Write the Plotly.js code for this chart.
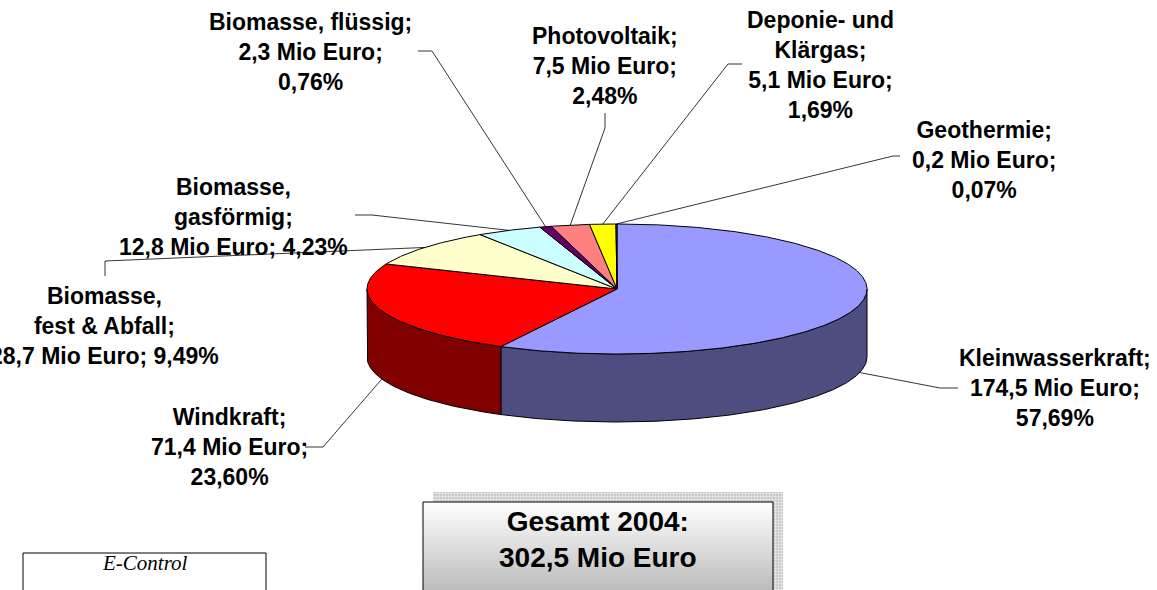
<!DOCTYPE html>
<html>
<head>
<meta charset="utf-8">
<script src="https://cdn.plot.ly/plotly-3.0.1.min.js"></script>
<style>html,body{margin:0;padding:0;background:#fff;}#chart{width:1157px;height:590px;}</style>
</head>
<body>
<div id="chart"></div>
<script>
// ---- data ----
const categories = ['Kleinwasserkraft', 'Windkraft', 'Biomasse, fest & Abfall', 'Biomasse, gasförmig',
                    'Biomasse, flüssig', 'Photovoltaik', 'Deponie- und Klärgas', 'Geothermie'];
const values = [174.5, 71.4, 28.7, 12.8, 2.3, 7.5, 5.1, 0.2];   // Mio Euro
const year = '2004';
const unit = 'Mio Euro';
// label wording (line breaks) per category
const labelNames = ['Kleinwasserkraft', 'Windkraft', 'Biomasse,<br>fest & Abfall', 'Biomasse,<br>gasförmig',
                    'Biomasse, flüssig', 'Photovoltaik', 'Deponie- und<br>Klärgas', 'Geothermie'];
const pctOnSameLine = [false, false, true, true, false, false, false, false];

// ---- styles / layout geometry ----
const sliceColors = ['#9999FF', '#FF0000', '#FFFFCC', '#CCFFFF', '#660066', '#FF8080', '#FFFF00', '#3366FF'];
const pie = {cx: 617, cy: 289, rx: 250, ry: 65, depth: 68};
const labelPos = [
  {x: 1055, y: 388, leader: [[958, 388], [940, 388]], edge: 'bottom'},
  {x: 229.5, y: 446.5, leader: [[305, 447], [323, 447]], edge: 'bottom'},
  {x: 104.5, y: 325.5, leader: [[105, 276], [105, 261]], edge: 'top'},
  {x: 233, y: 216.5, leader: [[355, 215], [372, 215]], edge: 'top'},
  {x: 310, y: 51.5, leader: [[418, 51], [432, 51]], edge: 'top'},
  {x: 604.5, y: 66, leader: [[605, 113], [605, 128]], edge: 'top'},
  {x: 820, y: 65, leader: [[742, 64], [728, 64]], edge: 'top'},
  {x: 983.5, y: 159.5, leader: [[900, 156], [893, 156]], edge: 'top'}
];

function fmt(v, d) { return v.toFixed(d).replace('.', ','); }
function darken(hex, f) {
  const n = parseInt(hex.slice(1), 16);
  const r = Math.round(((n >> 16) & 255) * f), g = Math.round(((n >> 8) & 255) * f), b = Math.round((n & 255) * f);
  return 'rgb(' + r + ',' + g + ',' + b + ')';
}
function pt(deg, dy) {
  const t = deg * Math.PI / 180;
  return [pie.cx + pie.rx * Math.sin(t), pie.cy - pie.ry * Math.cos(t) + (dy || 0)];
}
function arc(a0, a1, dy) {
  const out = [];
  const n = Math.max(2, Math.ceil(Math.abs(a1 - a0) / 0.5));
  for (let k = 0; k <= n; k++) out.push(pt(a0 + (a1 - a0) * k / n, dy));
  return out;
}

const total = values.reduce((a, b) => a + b, 0);
const cum = [0];
values.forEach(v => cum.push(cum[cum.length - 1] + v));
const ang = cum.map(c => c / total * 360);

const traces = [];
// side walls (front half only)
values.forEach((v, i) => {
  const s = Math.max(ang[i], 90), e = Math.min(ang[i + 1], 270);
  if (s >= e) return;
  const pts = arc(s, e, 0).concat(arc(e, s, pie.depth));
  pts.push(pts[0]);
  traces.push({type: 'scatter', mode: 'lines', x: pts.map(p => p[0]), y: pts.map(p => p[1]),
    fill: 'toself', fillcolor: darken(sliceColors[i], 0.5), line: {color: '#000', width: 1},
    hoverinfo: 'skip'});
});
// top faces
values.forEach((v, i) => {
  const pts = [[pie.cx, pie.cy]].concat(arc(ang[i], ang[i + 1], 0));
  pts.push([pie.cx, pie.cy]);
  traces.push({type: 'scatter', mode: 'lines', x: pts.map(p => p[0]), y: pts.map(p => p[1]),
    fill: 'toself', fillcolor: sliceColors[i], line: {color: '#000', width: 1},
    hoverinfo: 'skip'});
});
// leader lines
values.forEach((v, i) => {
  const lp = labelPos[i];
  const mid = (ang[i] + ang[i + 1]) / 2;
  const end = pt(mid, lp.edge === 'bottom' ? pie.depth : 0);
  const pts = lp.leader.concat([end]);
  traces.push({type: 'scatter', mode: 'lines', x: pts.map(p => p[0]), y: pts.map(p => p[1]),
    line: {color: '#000', width: 0.8}, hoverinfo: 'skip'});
});

// total box: shadow + gradient box
const box = {x0: 423, x1: 773, y0: 502, y1: 610, sx: 10, sy: -10};
traces.push({type: 'scatter', mode: 'lines',
  x: [box.x0 + box.sx, box.x1 + box.sx, box.x1 + box.sx, box.x0 + box.sx, box.x0 + box.sx],
  y: [box.y0 + box.sy, box.y0 + box.sy, box.y1, box.y1, box.y0 + box.sy],
  fill: 'toself', fillcolor: '#c4c4c4', line: {width: 0, color: 'rgba(0,0,0,0)'},
  fillpattern: {shape: '.', bgcolor: '#bdbdbd', fgcolor: '#ececec', size: 3, solidity: 0.5},
  hoverinfo: 'skip'});
traces.push({type: 'scatter', mode: 'lines',
  x: [box.x0, box.x1, box.x1, box.x0, box.x0],
  y: [box.y0, box.y0, box.y1, box.y1, box.y0],
  fill: 'toself',
  fillgradient: {type: 'vertical', start: box.y0, stop: 590, colorscale: [[0, '#ffffff'], [1, '#bcbcbc']]},
  line: {color: '#000', width: 1}, hoverinfo: 'skip'});

const annotations = values.map((v, i) => {
  const pct = fmt(v / total * 100, 2) + '%';
  const txt = labelNames[i] + ';<br>' + fmt(v, 1) + ' ' + unit + ';' + (pctOnSameLine[i] ? ' ' : '<br>') + pct;
  return {x: labelPos[i].x, y: labelPos[i].y, xref: 'x', yref: 'y', text: '<b>' + txt + '</b>',
    showarrow: false, xanchor: 'center', yanchor: 'middle', align: 'center',
    font: {family: 'Liberation Sans, Arial, sans-serif', size: 23, color: '#000'}};
});
annotations.push({x: (box.x0 + box.x1) / 2, y: 539.5, xref: 'x', yref: 'y',
  text: '<b>Gesamt ' + year + ':<br>' + fmt(total, 1) + ' ' + unit + '</b>',
  showarrow: false, xanchor: 'center', yanchor: 'middle', align: 'center',
  font: {family: 'Liberation Sans, Arial, sans-serif', size: 28, color: '#000'}});
annotations.push({x: 145, y: 563, xref: 'x', yref: 'y', text: 'E-Control', showarrow: false,
  xanchor: 'center', yanchor: 'middle',
  font: {family: 'Liberation Serif, DejaVu Serif, serif', size: 21, style: 'italic', color: '#000'}});

const layout = {
  width: 1157, height: 590,
  margin: {l: 0, r: 0, t: 0, b: 0},
  paper_bgcolor: '#fff', plot_bgcolor: '#fff',
  showlegend: false,
  xaxis: {range: [0, 1157], visible: false, fixedrange: true},
  yaxis: {range: [590, 0], visible: false, fixedrange: true},
  shapes: [
    {type: 'rect', xref: 'x', yref: 'y', x0: 23, x1: 266, y0: 553, y1: 620,
     line: {color: '#000', width: 1}, fillcolor: '#fff', layer: 'below'}
  ],
  annotations: annotations
};

Plotly.newPlot('chart', traces, layout, {staticPlot: true, displayModeBar: false});
</script>
</body>
</html>
